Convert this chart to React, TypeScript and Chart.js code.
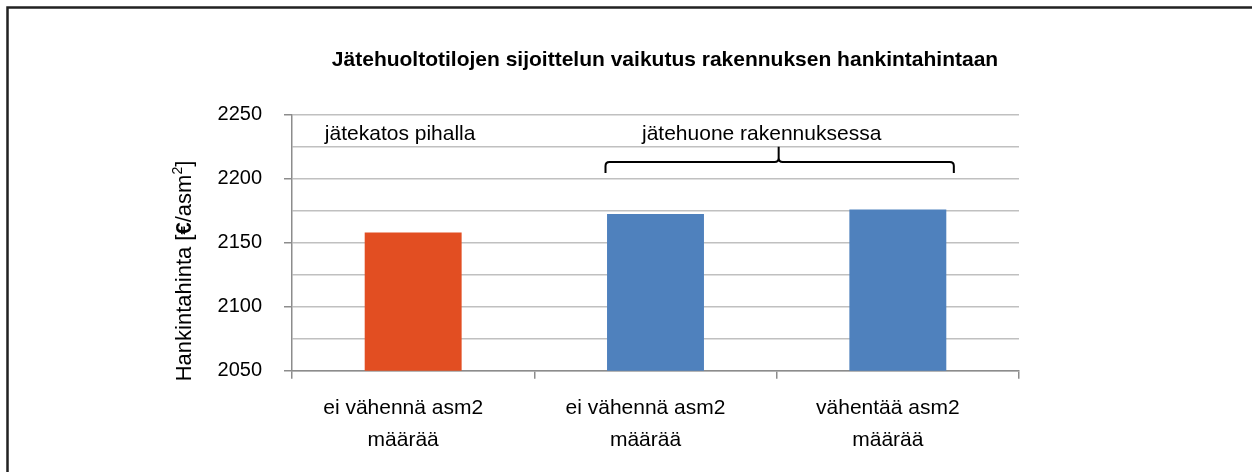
import React, { useEffect, useRef } from 'react';
import { Chart, registerables } from 'chart.js';

Chart.register(...registerables);

// ---- data ----
const categories: string[][] = [
  ['ei vähennä asm2', 'määrää'],
  ['ei vähennä asm2', 'määrää'],
  ['vähentää asm2', 'määrää'],
];
const values: number[] = [2158, 2172.5, 2176];
const barColors: string[] = ['#E24E22', '#4F81BD', '#4F81BD'];
const yMin = 2050;
const yMax = 2250;
const yStep = 25;
const yLabelStep = 50;
const chartTitle = 'Jätehuoltotilojen sijoittelun vaikutus rakennuksen hankintahintaan';
const yTitleParts = [
  { t: 'Hankintahinta [', bold: false, sup: false },
  { t: '€', bold: true, sup: false },
  { t: '/asm', bold: false, sup: false },
  { t: '2', bold: false, sup: true },
  { t: ']', bold: false, sup: false },
];
const groupLabel1 = 'jätekatos pihalla';
const groupLabel2 = 'jätehuone rakennuksessa';

const FONT = '"Liberation Sans", Arial, Helvetica, sans-serif';

const overlayPlugin = {
  id: 'overlay',
  beforeDraw(chart: any) {
    const { ctx, width, height } = chart;
    ctx.save();
    ctx.fillStyle = '#ffffff';
    ctx.fillRect(0, 0, width, height);
    ctx.restore();
  },
  afterDraw(chart: any) {
    const { ctx } = chart;
    const xs = chart.scales.x;
    const ys = chart.scales.y;
    ctx.save();
    // outer frame (clipped at right/bottom)
    ctx.strokeStyle = '#222222';
    ctx.lineWidth = 2.5;
    ctx.beginPath();
    ctx.moveTo(7.5, chart.height + 5);
    ctx.lineTo(7.5, 7.5);
    ctx.lineTo(chart.width + 5, 7.5);
    ctx.stroke();

    // title
    ctx.fillStyle = '#000000';
    ctx.font = 'bold 21px ' + FONT;
    ctx.textBaseline = 'alphabetic';
    ctx.textAlign = 'center';
    ctx.fillText(chartTitle, 665, 66);

    // y-axis title (rotated)
    ctx.save();
    ctx.translate(191, 271);
    ctx.rotate(-Math.PI / 2);
    ctx.textAlign = 'left';
    const fontFor = (p: any) =>
      (p.bold ? 'bold ' : '') + (p.sup ? '14px ' : '22px ') + FONT;
    let total = 0;
    for (const p of yTitleParts) {
      ctx.font = fontFor(p);
      total += ctx.measureText(p.t).width;
    }
    let cx = -total / 2;
    for (const p of yTitleParts) {
      ctx.font = fontFor(p);
      ctx.fillText(p.t, cx, p.sup ? -9 : 0);
      cx += ctx.measureText(p.t).width;
    }
    ctx.restore();

    // group annotations
    ctx.font = '21px ' + FONT;
    ctx.textAlign = 'center';
    const baseY = ys.getPixelForValue(2230);
    ctx.fillText(groupLabel1, xs.getPixelForValue(0) - 13, baseY);
    const mid12 = (xs.getPixelForValue(1) + xs.getPixelForValue(2)) / 2;
    ctx.fillText(groupLabel2, mid12 - 15, baseY);

    // brace
    const L = xs.getPixelForValue(1) - 50;
    const R = xs.getPixelForValue(2) + 56;
    const C = mid12 + 2;
    const hy = ys.getPixelForValue(2213);
    const bot = ys.getPixelForValue(2204.5);
    const tip = ys.getPixelForValue(2225);
    const r = 4;
    ctx.strokeStyle = '#000000';
    ctx.lineWidth = 2;
    ctx.beginPath();
    ctx.moveTo(L, bot);
    ctx.lineTo(L, hy + r);
    ctx.quadraticCurveTo(L, hy, L + r, hy);
    ctx.lineTo(C - r, hy);
    ctx.quadraticCurveTo(C, hy, C, hy - r);
    ctx.lineTo(C, tip);
    ctx.moveTo(C, hy - r);
    ctx.quadraticCurveTo(C, hy, C + r, hy);
    ctx.lineTo(R - r, hy);
    ctx.quadraticCurveTo(R, hy, R, hy + r);
    ctx.lineTo(R, bot);
    ctx.stroke();
    ctx.restore();
  },
};

export default function App() {
  const ref = useRef<HTMLCanvasElement | null>(null);
  useEffect(() => {
    if (!ref.current) return;
    const chart = new Chart(ref.current, {
      type: 'bar',
      data: {
        labels: categories,
        datasets: [
          {
            data: values,
            backgroundColor: barColors,
            borderWidth: 0,
            barPercentage: 0.4,
            categoryPercentage: 1.0,
          },
        ],
      },
      options: {
        animation: false,
        responsive: false,
        devicePixelRatio: 1,
        layout: { padding: { left: 0, top: 114.7, right: 233, bottom: 0 } },
        plugins: {
          legend: { display: false },
          title: { display: false },
          tooltip: { enabled: false },
        },
        scales: {
          x: {
            afterFit: (s: any) => {
              s.height = 472 - 370.7;
            },
            grid: {
              display: true,
              drawOnChartArea: false,
              drawTicks: true,
              tickLength: 8,
              offset: true,
              color: '#8c8c8c',
              lineWidth: 1.5,
            },
            border: { display: true, color: '#8c8c8c', width: 1.5 },
            ticks: {
              color: '#000000',
              padding: 14,
              labelOffset: -10,
              font: { family: FONT, size: 21, lineHeight: 1.52 },
              maxRotation: 0,
              autoSkip: false,
            },
          },
          y: {
            min: yMin,
            max: yMax,
            afterFit: (s: any) => {
              s.width = 292;
            },
            grid: {
              color: '#c0c0c0',
              lineWidth: 1.5,
              tickLength: 8,
              tickColor: (c: any) =>
                c.tick && c.tick.value % yLabelStep === 0 ? '#8c8c8c' : 'rgba(0,0,0,0)',
            },
            border: { display: true, color: '#8c8c8c', width: 1.5 },
            ticks: {
              stepSize: yStep,
              autoSkip: false,
              color: '#000000',
              padding: 22,
              font: { family: FONT, size: 20 },
              callback: (v: any) => (Number(v) % yLabelStep === 0 ? String(v) : ''),
            },
          },
        },
      },
      plugins: [overlayPlugin],
    });
    return () => chart.destroy();
  }, []);
  return (
    <canvas
      ref={ref}
      width={1252}
      height={472}
      style={{ position: 'absolute', left: 0, top: 0, display: 'block' }}
    />
  );
}
